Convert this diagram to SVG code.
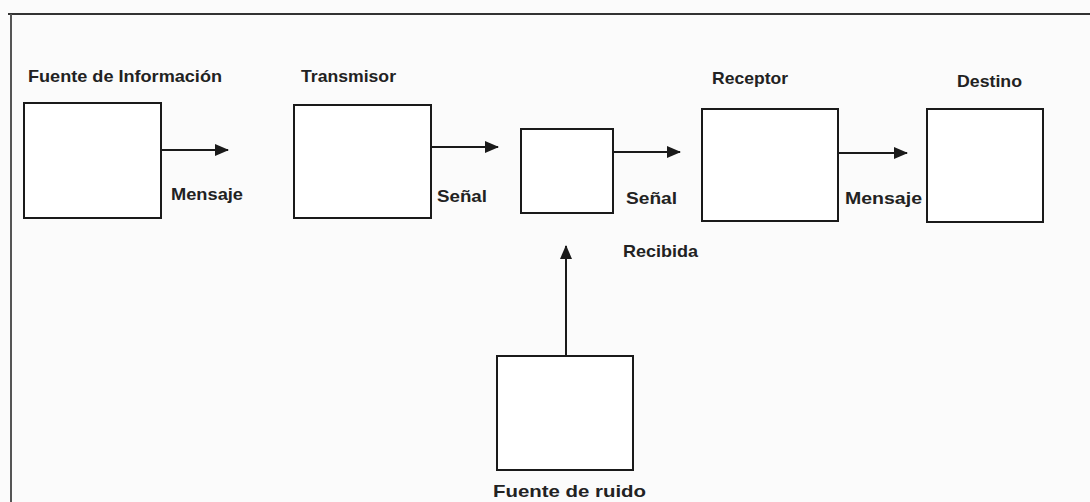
<svg xmlns="http://www.w3.org/2000/svg" width="1090" height="502" viewBox="0 0 1090 502">
<defs>
<style>
.box{fill:#fff;stroke:#1a1a1a;stroke-width:2}
.lbl{font-family:"Liberation Sans",Arial,sans-serif;font-size:17px;fill:#222;font-weight:bold}
.con{stroke:#1a1a1a;stroke-width:2;fill:none}
</style>
<marker id="ah" viewBox="0 0 14 12" refX="13" refY="6" markerWidth="7" markerHeight="6" orient="auto" markerUnits="strokeWidth">
<path d="M0,0 L14,6 L0,12 z" fill="#1a1a1a"/>
</marker>
</defs>
<rect x="0" y="0" width="1090" height="502" fill="#fbfbfb"/>
<g id="frame">
<line x1="8" y1="14" x2="1090" y2="14" stroke="#333" stroke-width="2"/>
<line x1="11" y1="14" x2="11" y2="502" stroke="#555" stroke-width="2"/>
</g>
<g id="fuente">
<rect class="box" x="24" y="103" width="137" height="115"/>
<text class="lbl" x="28" y="82" textLength="194" lengthAdjust="spacingAndGlyphs">Fuente de Información</text>
</g>
<g id="transmisor">
<rect class="box" x="294" y="105" width="137" height="113"/>
<text class="lbl" x="301" y="82" textLength="95" lengthAdjust="spacingAndGlyphs">Transmisor</text>
</g>
<g id="canal">
<rect class="box" x="521" y="129" width="92" height="84"/>
</g>
<g id="receptor">
<rect class="box" x="702" y="109" width="136" height="112"/>
<text class="lbl" x="712" y="84" textLength="76" lengthAdjust="spacingAndGlyphs">Receptor</text>
</g>
<g id="destino">
<rect class="box" x="927" y="109" width="116" height="113"/>
<text class="lbl" x="957" y="87" textLength="65" lengthAdjust="spacingAndGlyphs">Destino</text>
</g>
<g id="ruido">
<rect class="box" x="497" y="356" width="136" height="114"/>
<text class="lbl" x="493" y="497" textLength="153" lengthAdjust="spacingAndGlyphs">Fuente de ruido</text>
</g>
<g id="connectors">
<line class="con" x1="161" y1="150" x2="228" y2="150" marker-end="url(#ah)"/>
<line class="con" x1="431" y1="147" x2="498" y2="147" marker-end="url(#ah)"/>
<line class="con" x1="613" y1="152" x2="680" y2="152" marker-end="url(#ah)"/>
<line class="con" x1="838" y1="153" x2="907" y2="153" marker-end="url(#ah)"/>
<line class="con" x1="566" y1="356" x2="566" y2="246" marker-end="url(#ah)"/>
<text class="lbl" x="171" y="200" textLength="72" lengthAdjust="spacingAndGlyphs">Mensaje</text>
<text class="lbl" x="437" y="202" textLength="50" lengthAdjust="spacingAndGlyphs">Señal</text>
<text class="lbl" x="626" y="204" textLength="51" lengthAdjust="spacingAndGlyphs">Señal</text>
<text class="lbl" x="623" y="257" textLength="75" lengthAdjust="spacingAndGlyphs">Recibida</text>
<text class="lbl" x="845" y="204" textLength="77" lengthAdjust="spacingAndGlyphs">Mensaje</text>
</g>
</svg>
